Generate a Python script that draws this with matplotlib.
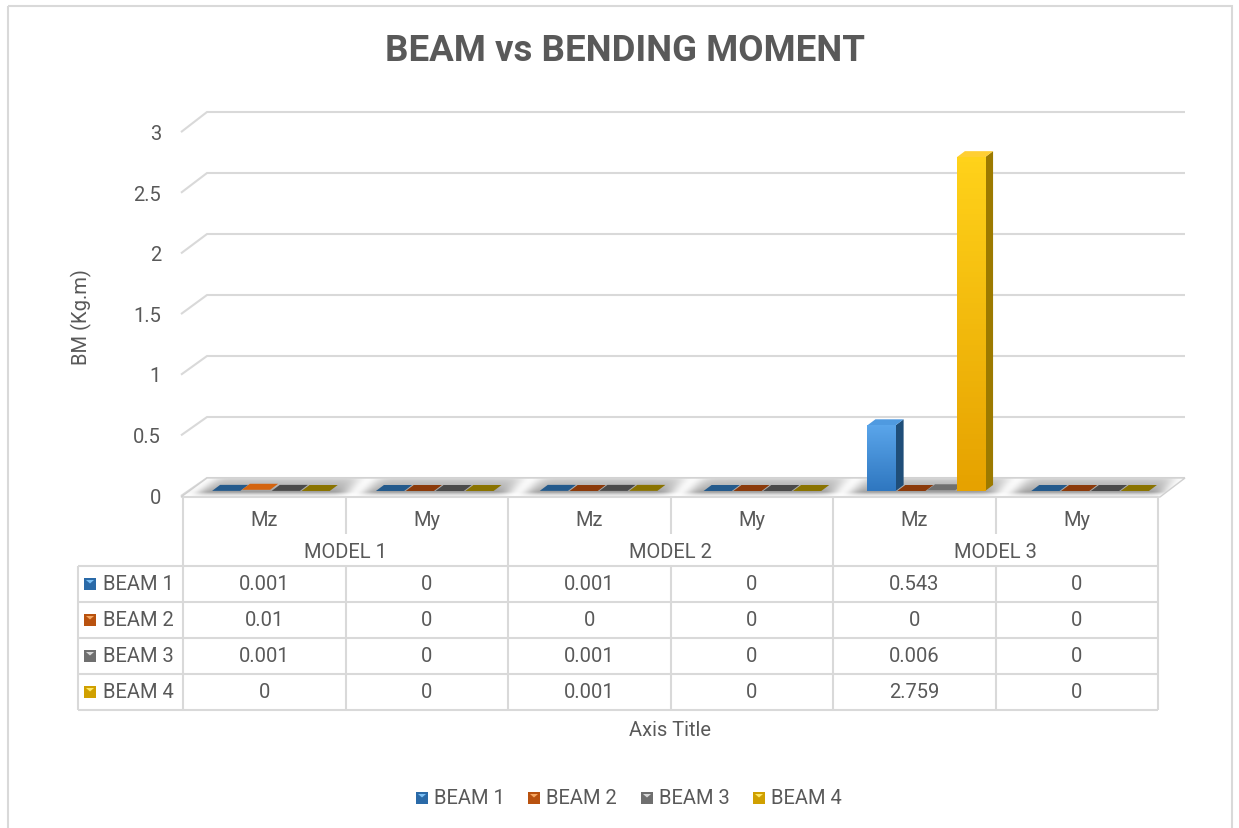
import numpy as np
import matplotlib
matplotlib.use('Agg')
import matplotlib.pyplot as plt
from matplotlib.patches import Polygon, Rectangle
from matplotlib.colors import LinearSegmentedColormap
from matplotlib import font_manager

# ---------------- data ----------------
models = ['MODEL 1', 'MODEL 2', 'MODEL 3']
components = ['Mz', 'My']
series = ['BEAM 1', 'BEAM 2', 'BEAM 3', 'BEAM 4']
beam1 = [0.001, 0, 0.001, 0, 0.543, 0]
beam2 = [0.01, 0, 0, 0, 0, 0]
beam3 = [0.001, 0, 0.001, 0, 0.006, 0]
beam4 = [0, 0, 0.001, 0, 2.759, 0]
yticks = [0, 0.5, 1, 1.5, 2, 2.5, 3]
title = 'BEAM vs BENDING MOMENT'
ylabel = 'BM (Kg.m)'
xlabel = 'Axis Title'

data = [beam1, beam2, beam3, beam4]

# styles
front_top = ['#5aa5ea', '#f07d2a', '#b0b0b0', '#ffd21a']
front_bot = ['#2f77c0', '#c55a11', '#7f7f7f', '#e6a200']
side_c = ['#1f4e79', '#843c0c', '#4d4d4d', '#9c7a00']
top_c = ['#4f9ae0', '#d4640f', '#707070', '#ffcf33']
zero_c = ['#245a8c', '#8b3a0a', '#4a4a4a', '#8a7300']
key_c = ['#2a6aa8', '#b9520f', '#6f6f6f', '#d0a000']
key_light = ['#7cc0f5', '#f7a862', '#d8d8d8', '#ffe866']
TXT = '#595959'
GRID = '#d9d9d9'

names = {f.name for f in font_manager.fontManager.ttflist}
body_font = ['Roboto', 'DejaVu Sans']
title_font = ['Liberation Sans Narrow', 'Roboto', 'DejaVu Sans'] if 'Liberation Sans Narrow' in names else ['Roboto', 'DejaVu Sans']
plt.rcParams['font.family'] = body_font
FS = 14.5

W, H = 1239, 829
fig = plt.figure(figsize=(W / 100, H / 100), dpi=100)
ov = fig.add_axes([0, 0, 1, 1])
ov.set_xlim(0, W)
ov.set_ylim(H, 0)
ov.axis('off')

# bar plane axes
BX0, BX1, BY0, BY3 = 189, 1172, 492, 129
ax = fig.add_axes([BX0 / W, (H - BY0) / H, (BX1 - BX0) / W, (BY0 - BY3) / H])
ax.set_xlim(-0.5, 5.5)
ax.set_ylim(0, 3)
ax.axis('off')
ax.patch.set_alpha(0)


def P(x, y):
    d = ax.transData.transform((x, y))
    return ov.transData.inverted().transform(d)


# chart border
ov.add_patch(Rectangle((8, 7), 1224, 840, fill=False, edgecolor=GRID, lw=1.5, zorder=0))

# ---------------- walls / gridlines ----------------
for v in yticks:
    yf = 497 - v * 121.3
    yb = 479 - v * 122.0
    ov.plot([181, 207, 1185], [yf, yb, yb], color=GRID, lw=1.5, zorder=1, solid_capstyle='butt')
    ov.text(161, 498 - v * 121.1, f'{v:g}', ha='right', va='center', fontsize=FS, color=TXT)

# floor
floor = Polygon([(207, 479), (1185, 479), (1160, 498), (181, 498)], closed=True,
                facecolor='none', edgecolor='#d0d0d0', lw=1.0, zorder=2)
ov.add_patch(floor)
fx = np.linspace(181, 1185, 1004)
fy = np.linspace(479, 498, 40)
vprof = np.interp(fy, [479, 480.5, 483, 488, 493, 495.5, 498], [0.88, 0.80, 0.76, 0.70, 0.62, 0.85, 0.97])
bounds = [345.5, 508, 670.5, 833, 995.5]
hmod = np.zeros((len(fy), len(fx)))
for b in bounds:
    # slanted reflective streak near each category boundary
    shift = (498 - fy)[:, None] * 0.9
    hmod = np.maximum(hmod, np.exp(-((fx[None, :] - b - 6 - shift) / 13.0) ** 2))
hmod = np.maximum(hmod, np.exp(-((fx[None, :] - 185 - (498 - fy)[:, None] * 1.2) / 12.0) ** 2))
hmod = np.maximum(hmod, np.exp(-((fx[None, :] - 1168 - (498 - fy)[:, None] * 0.8) / 12.0) ** 2))
img = vprof[:, None] + (1 - vprof[:, None]) * hmod * 0.9
im = ov.imshow(img, cmap='gray', vmin=0, vmax=1, extent=(181, 1185, 498, 479),
               aspect='auto', zorder=1.5, interpolation='bilinear')
im.set_clip_path(floor)
ov.set_xlim(0, W)
ov.set_ylim(H, 0)

# ---------------- bars ----------------
slot, w = 0.182, 0.172
DX, DY = 8, -6
for j, vals in enumerate(data):
    for i, v in enumerate(vals):
        xc = i + (j - 1.5) * slot
        x0, x1 = xc - w / 2, xc + w / 2
        px0, py0 = P(x0, 0)
        px1, py1 = P(x1, v)
        hpx = py0 - py1
        if hpx > 2:
            bar = ax.bar(xc, v, width=w, color=front_bot[j], edgecolor='none', zorder=3)[0]
            grad = np.linspace(0, 1, 64)[:, None]
            cm = LinearSegmentedColormap.from_list('g', [front_bot[j], front_top[j]])
            gi = ax.imshow(grad, cmap=cm, extent=(x0, x1, 0, v), origin='lower',
                           aspect='auto', zorder=3.5)
            gi.set_clip_path(bar)
            ov.add_patch(Polygon([(px1, py0), (px1 + DX, py0 + DY), (px1 + DX, py1 + DY), (px1, py1)],
                                 closed=True, facecolor=side_c[j], edgecolor='none', zorder=5))
            ov.add_patch(Polygon([(px0, py1), (px1, py1), (px1 + DX, py1 + DY), (px0 + DX, py1 + DY)],
                                 closed=True, facecolor=top_c[j], edgecolor='none', zorder=5))
        else:
            col = top_c[j] if v >= 0.005 else zero_c[j]
            ov.add_patch(Polygon([(px0, py1), (px1, py1), (px1 + DX, py1 + DY), (px0 + DX, py1 + DY)],
                                 closed=True, facecolor=col, edgecolor='none', zorder=5))
ax.set_xlim(-0.5, 5.5)
ax.set_ylim(0, 3)

# ---------------- data table ----------------
X = [183, 345.5, 508, 670.5, 833, 995.5, 1158]


def ln(xs, ys):
    ov.plot(xs, ys, color=GRID, lw=1.5, zorder=2, solid_capstyle='butt')


ln([183, 1158], [498, 498])
for yy in [567, 603, 639, 675, 711]:
    ln([78, 1158], [yy, yy])
for k, xx in enumerate(X):
    if k % 2 == 0:
        ln([xx, xx], [498, 711])
    else:
        ln([xx, xx], [498, 535])
        ln([xx, xx], [567, 711])
ln([78, 78], [567, 711])

for i in range(6):
    ov.text((X[i] + X[i + 1]) / 2, 520, components[i % 2], ha='center', va='center', fontsize=FS, color=TXT)
for m in range(3):
    ov.text((X[2 * m] + X[2 * m + 2]) / 2, 553, models[m], ha='center', va='center', fontsize=FS, color=TXT)


def key(cx, cy, j, s=12):
    x0, y0 = cx - s / 2, cy - s / 2
    ov.add_patch(Rectangle((x0, y0), s, s, facecolor=key_c[j], edgecolor='none', zorder=6))
    ov.add_patch(Polygon([(x0 + 2, y0 + 2), (x0 + s - 2, y0 + 2), (cx, cy - 0.5)], closed=True,
                         facecolor=key_light[j], edgecolor='none', zorder=7))


rows_y = [585, 621, 657, 693]
for j in range(4):
    key(90, rows_y[j], j)
    ov.text(103, rows_y[j], series[j], ha='left', va='center', fontsize=FS, color=TXT)
    for i in range(6):
        ov.text((X[i] + X[i + 1]) / 2, rows_y[j], f'{data[j][i]:g}', ha='center', va='center',
                fontsize=FS, color=TXT)

ov.text(670, 730, xlabel, ha='center', va='center', fontsize=FS, color=TXT)
ov.text(81, 317, ylabel, ha='center', va='center', rotation=90, fontsize=FS, color=TXT)

# legend
leg_key_x = [422, 534, 647, 759]
for j in range(4):
    key(leg_key_x[j], 799, j)
    ov.text(leg_key_x[j] + 12, 799, series[j], ha='left', va='center', fontsize=FS, color=TXT)

# title
t = ov.text(625, 51, title, ha='center', va='center', fontsize=28, fontweight='bold',
            color=TXT, family=title_font)
fig.canvas.draw()
bb = t.get_window_extent()
t.set_fontsize(28 * 480 / bb.width)

fig.savefig('out.png', dpi=100)
